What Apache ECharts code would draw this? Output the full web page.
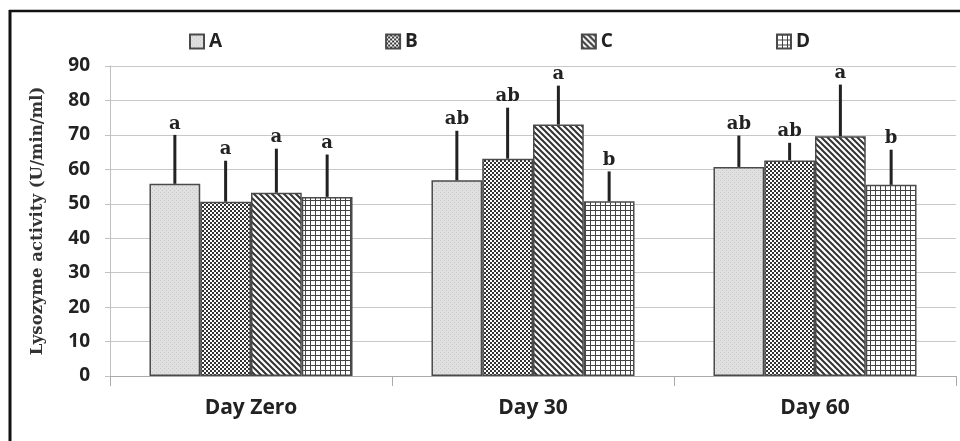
<!DOCTYPE html>
<html>
<head>
<meta charset="utf-8">
<script src="https://cdn.jsdelivr.net/npm/echarts@6/dist/echarts.min.js"></script>
<style>
html,body{margin:0;padding:0;background:#fff;}
#chart{width:960px;height:441px;}
</style>
</head>
<body>
<div id="chart"></div>
<script>
// ---- data ----
const categories = ['Day Zero', 'Day 30', 'Day 60'];
const groupNames = ['A', 'B', 'C', 'D'];
const meanA = [55.8, 56.8, 60.7];
const meanB = [50.6, 63.1, 62.6];
const meanC = [53.2, 73.0, 69.6];
const meanD = [52.0, 50.7, 55.5];
const sdA = [14.2, 14.4, 9.1];
const sdB = [11.9, 14.8, 5.1];
const sdC = [12.8, 11.3, 15.0];
const sdD = [12.3, 8.7, 10.2];
const letterA = ['a', 'ab', 'ab'];
const letterB = ['a', 'ab', 'ab'];
const letterC = ['a', 'a', 'a'];
const letterD = ['a', 'b', 'b'];
const yTicks = [0, 10, 20, 30, 40, 50, 60, 70, 80, 90];

const means = [meanA, meanB, meanC, meanD];
const sds = [sdA, sdB, sdC, sdD];
const letters = [letterA, letterB, letterC, letterD];

// ---- patterns ----
function makeCanvas(w, h, draw) {
  const c = document.createElement('canvas');
  c.width = w; c.height = h;
  const ctx = c.getContext('2d');
  draw(ctx, w, h);
  return c;
}
const patA = makeCanvas(4, 4, (ctx, w, h) => {
  ctx.fillStyle = '#e0e0e0'; ctx.fillRect(0, 0, w, h);
  ctx.fillStyle = '#c9c9c9'; ctx.fillRect(0, 0, 1, 1); ctx.fillRect(2, 2, 1, 1);
});
const patB = makeCanvas(4, 4, (ctx, w, h) => {
  ctx.fillStyle = '#ffffff'; ctx.fillRect(0, 0, w, h);
  ctx.fillStyle = '#333333'; ctx.fillRect(0, 0, 2, 2); ctx.fillRect(2, 2, 2, 2);
});
const patC = makeCanvas(6, 6, (ctx, w, h) => {
  ctx.fillStyle = '#ffffff'; ctx.fillRect(0, 0, w, h);
  ctx.strokeStyle = '#333333'; ctx.lineWidth = 2;
  ctx.beginPath();
  ctx.moveTo(-1, -1); ctx.lineTo(w + 1, h + 1);
  ctx.moveTo(-1, h - 1); ctx.lineTo(1, h + 1);
  ctx.moveTo(w - 1, -1); ctx.lineTo(w + 1, 1);
  ctx.stroke();
});
const patD = makeCanvas(5, 5, (ctx, w, h) => {
  ctx.fillStyle = '#ffffff'; ctx.fillRect(0, 0, w, h);
  ctx.fillStyle = '#444444'; ctx.fillRect(0, 0, w, 1); ctx.fillRect(0, 0, 1, h);
});
const patterns = [patA, patB, patC, patD];

const BAR_FRAC = 0.18;
const series = [];
groupNames.forEach((name, i) => {
  series.push({
    name: name,
    type: 'bar',
    data: means[i],
    barWidth: (BAR_FRAC * 100) + '%',
    barGap: '0%',
    itemStyle: {
      color: { image: patterns[i], repeat: 'repeat' },
      borderColor: '#4a4a4a',
      borderWidth: 1.5
    },
    emphasis: { disabled: true },
    z: 2
  });
});
groupNames.forEach((name, i) => {
  series.push({
    type: 'custom',
    name: name + '_err',
    data: categories.map((c, k) => [k, means[i][k], means[i][k] + sds[i][k]]),
    renderItem: function (params, api) {
      const k = api.value(0);
      const p0 = api.coord([k, api.value(1)]);
      const p1 = api.coord([k, api.value(2)]);
      const band = api.size([1, 0])[0];
      const off = (i - 1.5) * BAR_FRAC * band;
      const x = p0[0] + off;
      return {
        type: 'group',
        children: [
          { type: 'line', shape: { x1: x, y1: p0[1], x2: x, y2: p1[1] },
            style: { stroke: '#222', lineWidth: 3 } },
          { type: 'text', x: x, y: p1[1] - 2,
            style: { text: letters[i][params.dataIndex], fill: '#222',
              font: 'bold 18px "DejaVu Serif"', align: 'center', verticalAlign: 'bottom' } }
        ]
      };
    },
    z: 3,
    silent: true
  });
});

const chart = echarts.init(document.getElementById('chart'), null, { renderer: 'canvas' });
chart.setOption({
  animation: false,
  backgroundColor: '#ffffff',
  grid: { left: 110, right: 4, top: 66, bottom: 65 },
  legend: {
    data: groupNames,
    left: 184, top: 27,
    itemWidth: 14, itemHeight: 14, itemGap: 163,
    icon: 'rect',
    textStyle: { fontFamily: 'Open Sans', fontWeight: 'bold', fontSize: 19, color: '#222' },
    selectedMode: false
  },
  xAxis: {
    type: 'category',
    data: categories,
    axisLine: { lineStyle: { color: '#aaaaaa', width: 1 } },
    axisTick: { show: true, length: 10, lineStyle: { color: '#aaaaaa' } },
    axisLabel: { fontFamily: 'Open Sans', fontWeight: 'bold', fontSize: 21, color: '#222', margin: 22 }
  },
  yAxis: {
    type: 'value',
    min: yTicks[0], max: yTicks[yTicks.length - 1], interval: 10,
    name: 'Lysozyme activity (U/min/ml)',
    nameLocation: 'middle',
    nameGap: 64,
    nameTextStyle: { fontFamily: 'DejaVu Serif', fontWeight: 'bold', fontSize: 16.5, color: '#333' },
    axisLine: { show: true, lineStyle: { color: '#c0c0c0' } },
    axisTick: { show: true, length: 5, lineStyle: { color: '#c0c0c0' } },
    axisLabel: { fontFamily: 'Open Sans', fontWeight: 'bold', fontSize: 19, color: '#222', margin: 20 },
    splitLine: { lineStyle: { color: '#c8c8c8' } }
  },
  graphic: [
    { type: 'line', shape: { x1: 9, y1: 11, x2: 960, y2: 11 }, style: { stroke: '#111', lineWidth: 2.5 }, silent: true },
    { type: 'line', shape: { x1: 10, y1: 10, x2: 10, y2: 441 }, style: { stroke: '#111', lineWidth: 3 }, silent: true }
  ],
  series: series
});
</script>
</body>
</html>
